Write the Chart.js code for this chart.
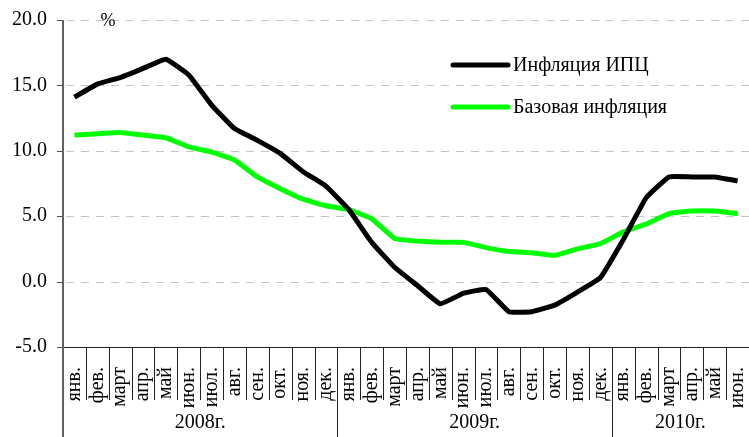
<!DOCTYPE html>
<html>
<head>
    <meta charset="UTF-8">
    <title>Инфляция</title>
    <script src="https://cdn.jsdelivr.net/npm/chart.js"></script>
    <style>
        html, body { margin: 0; padding: 0; background: #fff; }
        #wrap { width: 749px; height: 437px; }
    </style>
</head>
<body>
<div id="wrap"><canvas id="inflChart" width="749" height="437"></canvas></div>
<script type="text/javascript">
    // months, 2008 jan .. 2010 jun
    const months = ['янв.', 'фев.', 'март', 'апр.', 'май', 'июн.', 'июл.', 'авг.', 'сен.', 'окт.', 'ноя.', 'дек.',
                    'янв.', 'фев.', 'март', 'апр.', 'май', 'июн.', 'июл.', 'авг.', 'сен.', 'окт.', 'ноя.', 'дек.',
                    'янв.', 'фев.', 'март', 'апр.', 'май', 'июн.'];
    const years = ['2008г.', '2009г.', '2010г.'];
    const yearMonths = [12, 12, 6];
    const yTicks = [-5, 0, 5, 10, 15, 20];

    const cpi = [14.1, 15.1, 15.6, 16.3, 17.0, 15.8, 13.5, 11.7, 10.8, 9.8, 8.4, 7.3,
                 5.5, 3.0, 1.1, -0.3, -1.7, -0.9, -0.6, -2.3, -2.3, -1.8, -0.8, 0.3,
                 3.2, 6.4, 8.0, 8.0, 8.0, 7.7];
    const core = [11.2, 11.3, 11.4, 11.2, 11.0, 10.3, 9.9, 9.3, 8.0, 7.1, 6.3, 5.8,
                  5.5, 4.8, 3.3, 3.1, 3.0, 3.0, 2.6, 2.3, 2.2, 2.0, 2.5, 2.9,
                  3.8, 4.4, 5.2, 5.4, 5.4, 5.2];

    const seriesNames = ['Инфляция ИПЦ', 'Базовая инфляция'];
    const seriesColors = ['#000000', '#00ff00'];

    const serif = "'Liberation Serif', 'DejaVu Serif', serif";

    // dashed grid, drawn before the lines
    const grid = {
        id: 'dashGrid',
        beforeDatasetsDraw(chart) {
            const c = chart.ctx;
            const ys = chart.scales.y;
            const area = chart.chartArea;
            c.save();
            c.lineWidth = 1;
            for (let i = 0; i < yTicks.length; i++) {
                const y = Math.round(ys.getPixelForValue(yTicks[i])) + 0.5;
                if (i > 0) {
                    c.strokeStyle = '#c4c4c4';
                    c.setLineDash([8, 7]);
                    c.beginPath();
                    c.moveTo(area.left + 3, y);
                    c.lineTo(area.right, y);
                    c.stroke();
                }
                c.setLineDash([]);
                c.strokeStyle = '#505050';
                c.beginPath();
                c.moveTo(area.left - 6, y);
                c.lineTo(area.left, y);
                c.stroke();
            }
            c.restore();
        }
    };

    // extra drawing: month separators, year row, legend, % sign
    const decor = {
        id: 'decor',
        afterDraw(chart) {
            const c = chart.ctx;
            const xs = chart.scales.x;
            const area = chart.chartArea;
            const n = months.length;
            function edge(i) {
                if (i <= 0) return area.left;
                if (i >= n) return area.right;
                return (xs.getPixelForValue(i - 1) + xs.getPixelForValue(i)) / 2;
            }
            c.save();

            // month separators and year separators
            c.strokeStyle = '#222';
            c.lineWidth = 1;
            let starts = [0];
            let acc = 0;
            for (let k = 0; k < yearMonths.length; k++) { acc += yearMonths[k]; starts.push(acc); }
            for (let i = 1; i <= n; i++) {
                const x = Math.round(edge(i)) + 0.5;
                const big = starts.indexOf(i) >= 0 && i < n;
                c.beginPath();
                c.moveTo(x, area.bottom);
                c.lineTo(x, big ? chart.height : area.bottom + 53);
                c.stroke();
            }
            // x axis line
            c.beginPath();
            c.moveTo(area.left, area.bottom + 0.5);
            c.lineTo(area.right, area.bottom + 0.5);
            c.stroke();

            // left axis, full height
            c.strokeStyle = '#606060';
            c.lineWidth = 2;
            c.beginPath();
            c.moveTo(area.left, area.top);
            c.lineTo(area.left, chart.height);
            c.stroke();

            // year labels
            c.fillStyle = '#000';
            c.font = '20px ' + serif;
            c.textAlign = 'center';
            c.textBaseline = 'middle';
            for (let k = 0; k < years.length; k++) {
                const x0 = edge(starts[k]);
                const x1 = edge(starts[k + 1]);
                c.fillText(years[k], (x0 + x1) / 2, area.bottom + 76);
            }

            // % sign
            c.font = '18px ' + serif;
            c.fillText('%', 108, area.top + 1);

            // legend
            const lx = 453, ly = [65, 107];
            c.textAlign = 'left';
            c.font = '20px ' + serif;
            c.lineCap = 'round';
            for (let k = 0; k < seriesNames.length; k++) {
                c.strokeStyle = seriesColors[k];
                c.lineWidth = 5;
                c.beginPath();
                c.moveTo(lx, ly[k]);
                c.lineTo(lx + 55, ly[k]);
                c.stroke();
                c.fillStyle = '#000';
                c.fillText(seriesNames[k], lx + 60, ly[k] + 1);
            }
            c.restore();
        }
    };

    const ctx = document.getElementById('inflChart').getContext('2d');
    const chart = new Chart(ctx, {
        type: 'line',
        data: {
            labels: months,
            datasets: [{
                label: seriesNames[0],
                data: cpi,
                borderColor: seriesColors[0],
                borderWidth: 5,
                pointRadius: 0,
                tension: 0.1,
                borderJoinStyle: 'round'
            }, {
                label: seriesNames[1],
                data: core,
                borderColor: seriesColors[1],
                borderWidth: 5,
                pointRadius: 0,
                tension: 0.1,
                borderJoinStyle: 'round'
            }]
        },
        options: {
            responsive: false,
            animation: false,
            layout: { padding: { top: 20, right: 0, left: 0, bottom: 0 } },
            plugins: {
                legend: { display: false },
                tooltip: { enabled: false }
            },
            scales: {
                x: {
                    offset: true,
                    grid: { display: false },
                    border: { display: false },
                    ticks: {
                        color: '#000',
                        font: { family: serif, size: 20 },
                        minRotation: 90,
                        maxRotation: 90,
                        autoSkip: false,
                        padding: 12
                    },
                    afterFit(s) {
                        s.height = 90;
                        s.paddingLeft = 0;
                        s.paddingRight = 0;
                    }
                },
                y: {
                    min: yTicks[0],
                    max: yTicks[yTicks.length - 1],
                    grid: { display: false },
                    border: { display: false },
                    ticks: {
                        stepSize: 5,
                        color: '#000',
                        font: { family: serif, size: 20 },
                        padding: 8,
                        callback: v => v.toFixed(1)
                    },
                    afterFit(s) {
                        s.width = 63;
                        s.paddingTop = 0;
                        s.paddingBottom = 0;
                    }
                }
            }
        },
        plugins: [grid, decor]
    });
</script>
</body>
</html>
